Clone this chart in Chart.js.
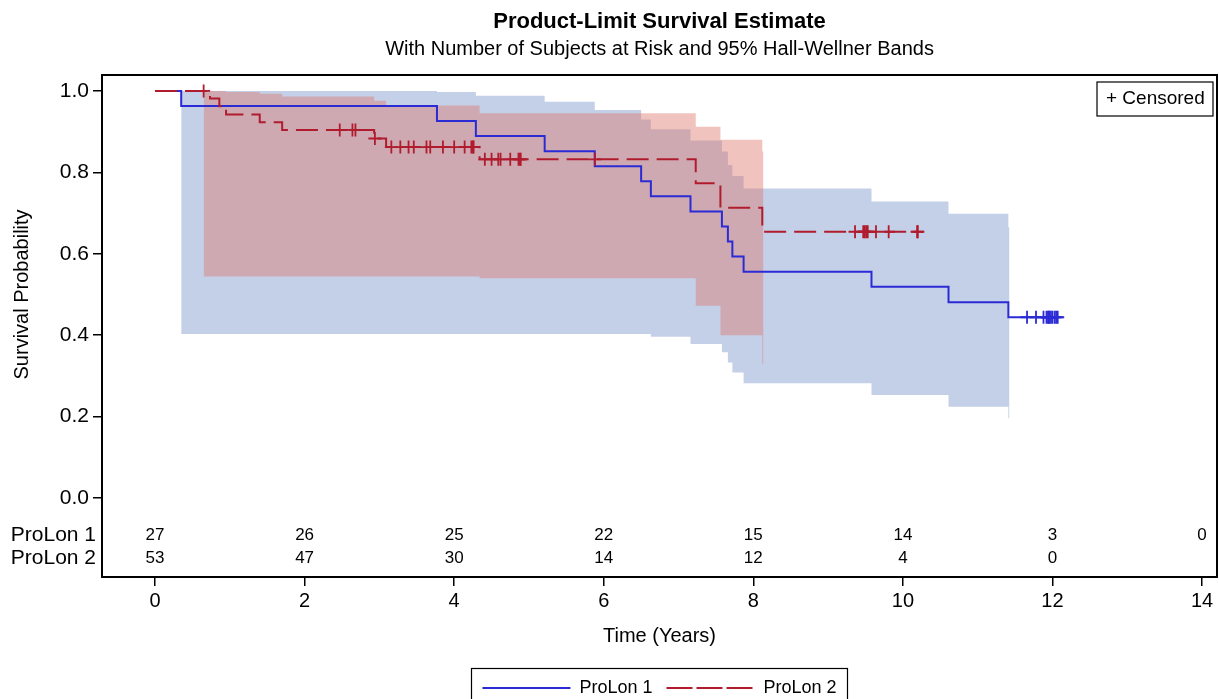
<!DOCTYPE html>
<html><head><meta charset="utf-8">
<script src="https://cdn.jsdelivr.net/npm/chart.js@4.4.1/dist/chart.umd.min.js"></script>
<style>html,body{margin:0;padding:0;background:#fff;overflow:hidden}canvas{display:block}</style>
</head><body>
<canvas id="c" width="1219" height="699"></canvas>
<script>
// ---------------- data ----------------
const groupNames = ['ProLon 1', 'ProLon 2'];

// ProLon 1 : product-limit step function
const p1Times = [0, 0.35, 3.77, 4.29, 5.21, 5.88, 6.50, 6.63, 7.16, 7.58, 7.66, 7.72, 7.87, 9.58, 10.61, 11.41, 12.07];
const p1Surv  = [1.000, 0.963, 0.926, 0.889, 0.852, 0.815, 0.778, 0.741, 0.704, 0.667, 0.630, 0.593, 0.556, 0.519, 0.481, 0.444, 0.444];
const p1Censor = [11.66, 11.78, 11.88, 11.92, 11.94, 11.95, 11.96, 11.98, 12.00, 12.03, 12.05, 12.07];
// ProLon 1 : 95% Hall-Wellner band
const p1BandTimes = [0.35, 3.77, 4.29, 5.21, 5.88, 6.50, 6.63, 7.16, 7.58, 7.66, 7.72, 7.87, 9.58, 10.61, 11.41, 11.425];
const p1BandUpper = [1.000, 0.997, 0.988, 0.973, 0.953, 0.930, 0.906, 0.878, 0.851, 0.818, 0.791, 0.760, 0.728, 0.698, 0.665, 0.665];
const p1BandLower = [0.403, 0.403, 0.403, 0.403, 0.403, 0.403, 0.396, 0.378, 0.358, 0.333, 0.308, 0.282, 0.253, 0.224, 0.196, 0.196];

// ProLon 2 : product-limit step function
const p2Times = [0, 0.735, 0.86, 0.95, 1.40, 1.70, 2.93, 3.09, 4.34, 7.23, 7.56, 8.12, 10.20];
const p2Surv  = [1.000, 0.981, 0.962, 0.942, 0.923, 0.904, 0.883, 0.862, 0.832, 0.773, 0.713, 0.654, 0.654];
const p2Censor = [0.65, 2.47, 2.64, 2.68, 2.94, 3.16, 3.28, 3.39, 3.46, 3.63, 3.68, 3.85, 4.00, 4.14, 4.23, 4.25, 4.26,
                  4.41, 4.50, 4.59, 4.62, 4.75, 4.86, 4.88, 4.89, 5.88, 9.36, 9.47, 9.49, 9.51, 9.53, 9.64, 9.81, 10.19, 10.20];
// ProLon 2 : 95% Hall-Wellner band
const p2BandTimes = [0.65, 0.95, 1.40, 1.70, 2.93, 3.09, 4.34, 7.23, 7.56, 8.12, 8.135];
const p2BandUpper = [1.000, 0.997, 0.993, 0.986, 0.976, 0.964, 0.945, 0.912, 0.880, 0.851, 0.851];
const p2BandLower = [0.544, 0.544, 0.544, 0.544, 0.544, 0.544, 0.540, 0.472, 0.400, 0.329, 0.329];

// number at risk
const riskTimes = [0, 2, 4, 6, 8, 10, 12, 14];
const p1AtRisk = [27, 26, 25, 22, 15, 14, 3, 0];
const p2AtRisk = [53, 47, 30, 14, 12, 4, 0, null];

// ticks / texts
const xTicks = [0, 2, 4, 6, 8, 10, 12, 14];
const yTicks = [0, 0.2, 0.4, 0.6, 0.8, 1.0];
const titleText = 'Product-Limit Survival Estimate';
const subtitleText = 'With Number of Subjects at Risk and 95% Hall-Wellner Bands';
const xTitle = 'Time (Years)';
const yTitle = 'Survival Probability';
const censorLabel = '+ Censored';

// ---------------- helpers ----------------
const pts = (xs, ys) => xs.map((x, i) => ({x, y: ys[i]}));
function survAt(times, surv, t) {
  let v = surv[0];
  for (let i = 0; i < times.length; i++) { if (times[i] <= t) v = surv[i]; }
  return v;
}
const censorPts = (cs, times, surv) => cs.map(t => ({x: t, y: survAt(times, surv, t)}));

const FONT = '"Liberation Sans", Arial, Helvetica, sans-serif';
Chart.defaults.font.family = FONT;
Chart.defaults.color = '#000';

const BLUE = '#2B2BD6';
const RED = '#B01C2E';
const BLUE_BAND = 'rgba(124,151,202,0.45)';
const RED_BAND = 'rgba(222,122,111,0.45)';
const RIGHT_MARGIN = 2;

const decor = {
  id: 'decor',
  afterLayout(chart) {
    // stretch the plot frame to the right margin of the figure
    const a = chart.chartArea;
    const newRight = chart.width - RIGHT_MARGIN;
    if (a.right !== newRight) {
      a.right = newRight;
      a.width = a.right - a.left;
      chart.boxes.forEach(b => {
        if ((b.position === 'top' || b.position === 'bottom') && !b.fullSize) {
          b.right = newRight;
          b.width = b.right - b.left;
          if (typeof b.configure === 'function') b.configure();
        }
      });
    }
    const lg = chart.legend;
    if (lg) { lg.top += 8; lg.bottom += 8; }
  },
  afterDraw(chart) {
    const {ctx, chartArea: a, scales: {x, y}} = chart;
    ctx.save();
    // frame
    ctx.strokeStyle = '#000';
    ctx.lineWidth = 2;
    ctx.strokeRect(a.left, a.top, a.right - a.left, a.bottom - a.top);

    // y-axis title, centred on the 0..1 range
    ctx.save();
    ctx.font = '20px ' + FONT;
    ctx.fillStyle = '#000';
    ctx.translate(22, (y.getPixelForValue(0) + y.getPixelForValue(1)) / 2);
    ctx.rotate(-Math.PI / 2);
    ctx.textAlign = 'center';
    ctx.textBaseline = 'middle';
    ctx.fillText(yTitle, 0, 0);
    ctx.restore();

    // at-risk table
    const y0 = y.getPixelForValue(0);
    const rows = [y0 + 37, y0 + 60];
    const risk = [p1AtRisk, p2AtRisk];
    ctx.fillStyle = '#000';
    ctx.textBaseline = 'middle';
    ctx.font = '21px ' + FONT;
    ctx.textAlign = 'right';
    groupNames.forEach((g, r) => ctx.fillText(g, a.left - 6, rows[r]));
    ctx.font = '17px ' + FONT;
    ctx.textAlign = 'center';
    risk.forEach((arr, r) => arr.forEach((n, i) => {
      if (n === null) return;
      ctx.fillText(String(n), x.getPixelForValue(riskTimes[i]), rows[r]);
    }));

    // "+ Censored" inset legend
    ctx.lineWidth = 1.2;
    ctx.strokeRect(a.right - 120, a.top + 7, 116, 34);
    ctx.font = '19px ' + FONT;
    ctx.textAlign = 'left';
    ctx.fillText(censorLabel, a.right - 111, a.top + 24);

    // box around bottom legend
    const lg = chart.legend;
    if (lg && lg.legendHitBoxes && lg.legendHitBoxes.length) {
      const hb = lg.legendHitBoxes;
      const l = Math.min(...hb.map(h => h.left)) - 11;
      const r = Math.max(...hb.map(h => h.left + h.width)) + 11;
      const t = Math.min(...hb.map(h => h.top)) - 11;
      ctx.lineWidth = 1.2;
      ctx.strokeRect(Math.round(l) + 0.5, Math.round(t) + 0.5, Math.round(r - l), 60);
    }
    ctx.restore();
  }
};

const datasets = [
  { // 0
    label: 'ProLon 2 censored', data: censorPts(p2Censor, p2Times, p2Surv),
    showLine: false, pointStyle: 'cross', pointRadius: 6.5, pointHoverRadius: 6.5,
    pointBorderWidth: 1.8, borderColor: RED, backgroundColor: RED
  },
  { // 1
    label: groupNames[1], data: pts(p2Times, p2Surv), stepped: true,
    borderColor: RED, backgroundColor: RED, borderWidth: 2, borderDash: [22, 8],
    pointRadius: 0, fill: false
  },
  { // 2
    label: 'ProLon 1 censored', data: censorPts(p1Censor, p1Times, p1Surv),
    showLine: false, pointStyle: 'cross', pointRadius: 6.5, pointHoverRadius: 6.5,
    pointBorderWidth: 1.8, borderColor: BLUE, backgroundColor: BLUE
  },
  { // 3
    label: groupNames[0], data: pts(p1Times, p1Surv), stepped: true,
    borderColor: BLUE, backgroundColor: BLUE, borderWidth: 2,
    pointRadius: 0, fill: false
  },
  { // 4
    label: 'ProLon 2 band upper', data: pts(p2BandTimes, p2BandUpper), stepped: true,
    borderWidth: 0, borderColor: 'rgba(0,0,0,0)', backgroundColor: RED_BAND, pointRadius: 0, fill: '+1'
  },
  { // 5
    label: 'ProLon 2 band lower', data: pts(p2BandTimes, p2BandLower), stepped: true,
    borderWidth: 0, borderColor: 'rgba(0,0,0,0)', backgroundColor: RED_BAND, pointRadius: 0, fill: false
  },
  { // 6
    label: 'ProLon 1 band upper', data: pts(p1BandTimes, p1BandUpper), stepped: true,
    borderWidth: 0, borderColor: 'rgba(0,0,0,0)', backgroundColor: BLUE_BAND, pointRadius: 0, fill: '+1'
  },
  { // 7
    label: 'ProLon 1 band lower', data: pts(p1BandTimes, p1BandLower), stepped: true,
    borderWidth: 0, borderColor: 'rgba(0,0,0,0)', backgroundColor: BLUE_BAND, pointRadius: 0, fill: false
  }
];

const tickGrid = {display: true, drawOnChartArea: false, drawTicks: true, tickLength: 9, color: '#000', lineWidth: 1.5};

new Chart(document.getElementById('c'), {
  type: 'line',
  data: {datasets},
  plugins: [decor],
  options: {
    responsive: false,
    animation: false,
    events: [],
    layout: {padding: {left: 0, right: RIGHT_MARGIN, top: 0, bottom: 0}},
    plugins: {
      filler: {drawTime: 'beforeDatasetsDraw'},
      tooltip: {enabled: false},
      title: {display: true, text: titleText, fullSize: false, color: '#000',
              font: {size: 22, weight: 'bold'}, padding: {top: 9, bottom: 2}},
      subtitle: {display: true, text: subtitleText, fullSize: false, color: '#000',
                 font: {size: 20}, padding: {top: 0, bottom: 13.6}},
      legend: {
        display: true, position: 'bottom', fullSize: false,
        labels: {
          filter: item => item.datasetIndex === 1 || item.datasetIndex === 3,
          sort: (a, b) => b.datasetIndex - a.datasetIndex,
          usePointStyle: false, boxWidth: 88, boxHeight: 0,
          padding: 14, color: '#000', font: {size: 18}
        }
      }
    },
    scales: {
      x: {
        type: 'linear', min: -0.709, max: 14.2,
        afterBuildTicks: s => { s.ticks = xTicks.map(v => ({value: v})); },
        afterFit: s => { s.height = 80; },
        ticks: {font: {size: 20}, padding: 3, autoSkip: false, maxRotation: 0, callback: v => String(v)},
        grid: tickGrid,
        border: {display: false},
        title: {display: true, text: xTitle, font: {size: 20}, padding: {top: 0, bottom: 9}}
      },
      y: {
        type: 'linear', min: -0.194, max: 1.039,
        afterBuildTicks: s => { s.ticks = yTicks.map(v => ({value: v})); },
        afterFit: s => { s.width = 102; },
        ticks: {font: {size: 21}, padding: 4, callback: v => Number(v).toFixed(1)},
        grid: tickGrid,
        border: {display: false}
      }
    }
  }
});
</script>
</body></html>
